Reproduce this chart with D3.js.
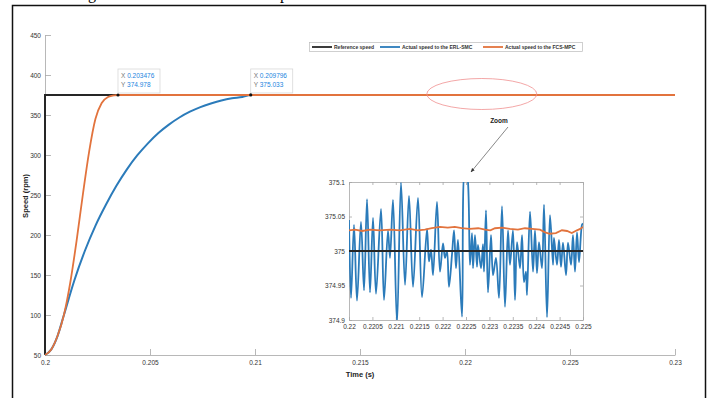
<!DOCTYPE html>
<html>
<head>
<meta charset="utf-8">
<script src="https://cdn.jsdelivr.net/npm/d3@7"></script>
<style>
  html, body { margin: 0; padding: 0; background: #fff; }
  svg { display: block; font-family: "Liberation Sans", Arial, sans-serif; }
</style>
</head>
<body>
<svg id="chart" width="708" height="398"></svg>
<script>
// main plot: time (s) and speed (rpm)
const refT = [0.2, 0.2, 0.23]
const refV = [50, 375, 375]
const smcT = [0.2, 0.2003, 0.2006, 0.2009, 0.2014, 0.2019, 0.2024, 0.2029, 0.2034, 0.2039, 0.2044, 0.2049,
  0.2054, 0.2059, 0.2064, 0.2069, 0.2074, 0.2079, 0.2084, 0.2089, 0.2094, 0.209796, 0.212, 0.23]
const smcV = [50, 57, 74, 100, 143.5, 180.3, 211.5, 237.8, 261.5, 282.1, 299.7, 314.6,
  327.5, 338, 346.9, 354.1, 359.9, 364.4, 368.2, 370.9, 372.6, 375.033, 375.0, 375.0]
const mpcT = [0.2, 0.2003, 0.2006, 0.2009, 0.2012, 0.2015, 0.2018, 0.2021, 0.2024, 0.2027, 0.2030, 0.2033, 0.203476, 0.205, 0.23]
const mpcV = [50, 57, 74, 100, 140, 192, 250, 304, 345, 365, 372.5, 374.6, 374.978, 375.03, 375.03]
const xTicks = [0.2, 0.205, 0.21, 0.215, 0.22, 0.225, 0.23]
const yTicks = [50, 100, 150, 200, 250, 300, 350, 400, 450]

// zoomed inset
const zRefT = [0.22, 0.225]
const zRefV = [375, 375]
const zSmcT = [0.220000, 0.220043, 0.220107, 0.220171, 0.220256, 0.220321, 0.220385, 0.220449, 0.220513, 0.220577,
  0.220684, 0.220748, 0.220833, 0.220876, 0.220940, 0.221026, 0.221111, 0.221197, 0.221282, 0.221368,
  0.221474, 0.221560, 0.221667, 0.221709, 0.221752, 0.221795, 0.221880, 0.221944, 0.222009, 0.222051,
  0.222094, 0.222137, 0.222201, 0.222244, 0.222286, 0.222329, 0.222415, 0.222479, 0.222521, 0.222585,
  0.222628, 0.222650, 0.222692, 0.222735, 0.222756, 0.222821, 0.222863, 0.222885, 0.222927, 0.222970,
  0.223034, 0.223077, 0.223141, 0.223205, 0.223269, 0.223333, 0.223397, 0.223440, 0.223504, 0.223547,
  0.223590, 0.223654, 0.223697, 0.223739, 0.223782, 0.223803, 0.223868, 0.223932, 0.223974, 0.224017,
  0.224060, 0.224124, 0.224167, 0.224231, 0.224295, 0.224359, 0.224380, 0.224444, 0.224487, 0.224530,
  0.224573, 0.224637, 0.224679, 0.224744, 0.224786, 0.224829, 0.224872, 0.224915, 0.224979, 0.225000]
const zSmcV = [375.045, 374.932, 375.038, 374.928, 375.042, 374.943, 375.075, 374.940, 375.048, 374.938,
  375.061, 374.929, 375.030, 374.990, 375.074, 374.895, 375.099, 374.951, 375.080, 374.948,
  375.077, 374.933, 375.032, 374.985, 375.002, 374.965, 375.071, 374.970, 375.011, 374.990,
  375.000, 374.948, 374.995, 375.030, 374.975, 375.016, 374.905, 375.120, 375.115, 374.980,
  375.026, 374.975, 375.023, 374.977, 375.009, 374.975, 375.010, 374.970, 375.059, 374.940,
  375.023, 374.965, 374.990, 374.932, 375.065, 374.919, 375.030, 374.980, 375.030, 374.929,
  375.013, 374.975, 375.023, 374.955, 374.970, 374.936, 375.057, 374.970, 375.030, 374.968,
  375.013, 374.975, 375.067, 374.904, 375.052, 374.980, 375.019, 374.980, 375.016, 374.977,
  375.012, 374.965, 375.012, 374.980, 375.023, 374.970, 375.027, 374.984, 375.038, 375.040]
const zMpcT = [0.22, 0.22013, 0.22028, 0.22045, 0.22066, 0.22088, 0.22109, 0.22130, 0.22147, 0.22162,
  0.22177, 0.22194, 0.22211, 0.22226, 0.22241, 0.22258, 0.22276, 0.22291, 0.22302, 0.22312,
  0.22327, 0.22344, 0.22361, 0.22376, 0.22391, 0.22408, 0.22419, 0.22429, 0.22442, 0.22455,
  0.22466, 0.22476, 0.22487, 0.22494, 0.225]
const zMpcV = [375.030, 375.031, 375.029, 375.031, 375.030, 375.031, 375.030, 375.032, 375.030, 375.031,
  375.033, 375.035, 375.034, 375.035, 375.033, 375.032, 375.033, 375.031, 375.030, 375.033,
  375.034, 375.032, 375.031, 375.033, 375.032, 375.031, 375.027, 375.025, 375.026, 375.030,
  375.029, 375.026, 375.030, 375.032, 375.035]
const zxTicks = [0.22, 0.2205, 0.221, 0.2215, 0.222, 0.2225, 0.223, 0.2235, 0.224, 0.2245, 0.225]
const zyTicks = [374.9, 374.95, 375, 375.05, 375.1]

const legendItems = ['Reference speed', 'Actual speed to the ERL-SMC', 'Actual speed to the FCS-MPC']
const tipsT = [0.203476, 0.209796]
const tipsV = [374.978, 375.033]

const colors = ['#262626', '#2b7bba', '#e2733d']
const axisGray = '#a6a6a6'
const textGray = '#333'

const zip = (ts, vs) => ts.map((t, i) => ({ t, v: vs[i] }))
const fmt = d => String(+d.toFixed(5))

const svg = d3.select('#chart')

// cropped caption descenders and the page frame
svg.append('text').attr('x', 88).attr('y', -1).attr('font-family', 'Liberation Serif').attr('font-size', 16).text('g')
svg.append('text').attr('x', 280).attr('y', -1).attr('font-family', 'Liberation Serif').attr('font-size', 16).text('p')
svg.append('rect').attr('x', 12.5).attr('y', 5.5).attr('width', 693).attr('height', 400)
  .attr('fill', 'none').attr('stroke', '#111').attr('stroke-width', 1.5)

buildMain()
buildInset()

function styleAxis (g) {
  g.select('.domain').attr('stroke', axisGray).attr('stroke-width', 0.8)
  g.selectAll('.tick line').attr('stroke', axisGray).attr('stroke-width', 0.8)
  g.selectAll('.tick text').attr('fill', textGray).attr('font-size', 6.5).attr('font-family', 'Liberation Sans')
}

function buildMain () {
  const x = d3.scaleLinear().domain([0.2, 0.23]).range([45, 675])
  const y = d3.scaleLinear().domain([50, 450]).range([355, 35])

  svg.append('g').attr('transform', 'translate(0,355)')
    .call(d3.axisBottom(x).tickValues(xTicks).tickFormat(fmt).tickSize(-6).tickSizeOuter(0).tickPadding(5))
    .call(styleAxis)
  svg.append('g').attr('transform', 'translate(45,0)')
    .call(d3.axisLeft(y).tickValues(yTicks).tickSize(-6).tickSizeOuter(0).tickPadding(4))
    .call(styleAxis)

  const line = d3.line().x(d => x(d.t)).y(d => y(d.v))
  const smooth = d3.line().x(d => x(d.t)).y(d => y(d.v)).curve(d3.curveMonotoneX)

  svg.append('path').datum(zip(refT, refV)).attr('d', line)
    .attr('fill', 'none').attr('stroke', colors[0]).attr('stroke-width', 2)
  svg.append('path').datum(zip(smcT, smcV)).attr('d', smooth)
    .attr('fill', 'none').attr('stroke', colors[1]).attr('stroke-width', 2)
  svg.append('path').datum(zip(mpcT, mpcV)).attr('d', smooth)
    .attr('fill', 'none').attr('stroke', colors[2]).attr('stroke-width', 1.8)

  svg.append('text').attr('x', 360).attr('y', 377).attr('text-anchor', 'middle')
    .attr('font-size', 7.5).attr('font-weight', 'bold').attr('fill', '#222').text('Time (s)')
  svg.append('text').attr('transform', 'translate(28,196) rotate(-90)').attr('text-anchor', 'middle')
    .attr('font-size', 7.5).attr('font-weight', 'bold').attr('fill', '#222').text('Speed (rpm)')

  // data tips
  tipsT.forEach((t, i) => {
    const g = svg.append('g').attr('transform', `translate(${x(t)},${y(tipsV[i])})`)
    g.append('rect').attr('x', 0).attr('y', -26).attr('width', 42).attr('height', 24)
      .attr('fill', '#fff').attr('stroke', '#d8d8d8').attr('stroke-width', 0.8)
    const tx = g.append('text').attr('x', 3).attr('y', -17).attr('font-size', 6.5)
    tx.append('tspan').attr('fill', '#777').text('X ')
    tx.append('tspan').attr('fill', '#1a85e0').text(t.toFixed(6))
    const ty = g.append('text').attr('x', 3).attr('y', -8).attr('font-size', 6.5)
    ty.append('tspan').attr('fill', '#777').text('Y ')
    ty.append('tspan').attr('fill', '#1a85e0').text(tipsV[i].toFixed(3))
    g.append('circle').attr('r', 1.6).attr('fill', '#111')
  })

  // legend
  const lg = svg.append('g')
  lg.append('rect').attr('x', 309.5).attr('y', 42.5).attr('width', 273).attr('height', 9)
    .attr('fill', '#fff').attr('stroke', '#bbb').attr('stroke-width', 0.7)
  const starts = [312, 380, 483]
  legendItems.forEach((name, i) => {
    lg.append('line').attr('x1', starts[i]).attr('x2', starts[i] + 20).attr('y1', 47).attr('y2', 47)
      .attr('stroke', colors[i]).attr('stroke-width', 1.8)
    lg.append('text').attr('x', starts[i] + 22).attr('y', 49).attr('font-size', 5)
      .attr('font-weight', 'bold').attr('fill', '#333').text(name)
  })

  // zoom marker
  svg.append('ellipse').attr('cx', x(0.2208)).attr('cy', y(375) - 1).attr('rx', 55).attr('ry', 15.5)
    .attr('fill', 'none').attr('stroke', '#f09090').attr('stroke-width', 0.8)
  svg.append('text').attr('x', 499).attr('y', 123).attr('text-anchor', 'middle')
    .attr('font-size', 6.5).attr('font-weight', 'bold').attr('fill', '#222').text('Zoom')
  svg.append('defs').append('marker').attr('id', 'arrow').attr('viewBox', '0 0 10 10')
    .attr('refX', 9).attr('refY', 5).attr('markerWidth', 6).attr('markerHeight', 6).attr('orient', 'auto')
    .append('path').attr('d', 'M0,1L10,5L0,9z').attr('fill', '#333')
  svg.append('line').attr('x1', 508).attr('y1', 127).attr('x2', 471).attr('y2', 172)
    .attr('stroke', '#555').attr('stroke-width', 0.7).attr('marker-end', 'url(#arrow)')
}

function buildInset () {
  const x = d3.scaleLinear().domain([0.22, 0.225]).range([349, 583])
  const y = d3.scaleLinear().domain([374.9, 375.1]).range([320, 182])

  svg.append('rect').attr('x', 349).attr('y', 182).attr('width', 234).attr('height', 138).attr('fill', '#fff')
  svg.append('clipPath').attr('id', 'inset-clip').append('rect')
    .attr('x', 349).attr('y', 182).attr('width', 234).attr('height', 138)

  svg.append('g').attr('transform', 'translate(0,182)')
    .call(d3.axisTop(x).tickValues(zxTicks).tickFormat('').tickSize(-3).tickSizeOuter(0))
    .call(styleAxis)
  svg.append('g').attr('transform', 'translate(583,0)')
    .call(d3.axisRight(y).tickValues(zyTicks).tickFormat('').tickSize(-3).tickSizeOuter(0))
    .call(styleAxis)
  svg.append('g').attr('transform', 'translate(0,320)')
    .call(d3.axisBottom(x).tickValues(zxTicks).tickFormat(fmt).tickSize(-3).tickSizeOuter(0).tickPadding(4))
    .call(styleAxis)
  svg.append('g').attr('transform', 'translate(349,0)')
    .call(d3.axisLeft(y).tickValues(zyTicks).tickFormat(fmt).tickSize(-3).tickSizeOuter(0).tickPadding(4))
    .call(styleAxis)

  const plot = svg.append('g').attr('clip-path', 'url(#inset-clip)')
  const line = d3.line().x(d => x(d.t)).y(d => y(d.v))
  const smooth = d3.line().x(d => x(d.t)).y(d => y(d.v)).curve(d3.curveCatmullRom.alpha(0.5))

  plot.append('path').datum(zip(zSmcT, zSmcV)).attr('d', smooth)
    .attr('fill', 'none').attr('stroke', colors[1]).attr('stroke-width', 1.8)
  plot.append('path').datum(zip(zMpcT, zMpcV)).attr('d', line)
    .attr('fill', 'none').attr('stroke', colors[2]).attr('stroke-width', 1.8)
  plot.append('path').datum(zip(zRefT, zRefV)).attr('d', line)
    .attr('fill', 'none').attr('stroke', colors[0]).attr('stroke-width', 1.8)
}
</script>
</body>
</html>
